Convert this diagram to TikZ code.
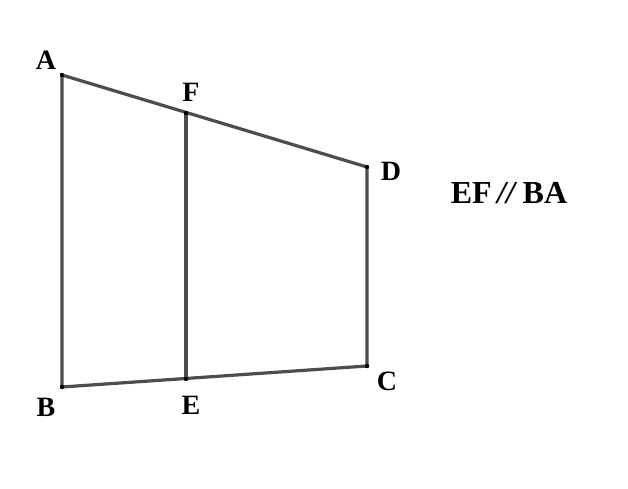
\documentclass[tikz,border=0pt]{standalone}
\usepackage{fontspec}
\setmainfont{Liberation Serif}
\usepackage{xcolor}
\definecolor{edgegray}{RGB}{77,77,77}

\begin{document}
\begin{tikzpicture}[x=1pt,y=-1pt,
  side/.style={draw=edgegray,line width=3.2pt},
  lbl/.style={font=\fontsize{28}{30}\selectfont\bfseries,inner sep=0pt}]
   		\useasboundingbox (0,0) rectangle (628,489);
   		\coordinate (A) at (62,75);
   		\coordinate (B) at (62,387);
   		\coordinate (C) at (367,366);
   		\coordinate (D) at (367,167);
   		\coordinate (F) at (186,113);
   		\coordinate (E) at (186,379);
   		
   		\draw[side] (A) -- (B) -- (C) -- (D) -- cycle;
   		\draw[side] (F) -- (E);
   		\foreach \p/\x/\y in {
   			A/46/60,
   			B/46/407,
   			C/387/381,
   			D/391/171,
   			F/191/92,
   			E/191/405
   		}{
   			\fill (\p) circle (2.2pt);
   			\node[lbl] (l\p) at (\x,\y) {\p};
   		}
   		\node[lbl,font=\fontsize{32}{34}\selectfont\bfseries] (rel) at (509,193) {EF\,\textit{//}\,BA};
   	\end{tikzpicture}
\end{document}
